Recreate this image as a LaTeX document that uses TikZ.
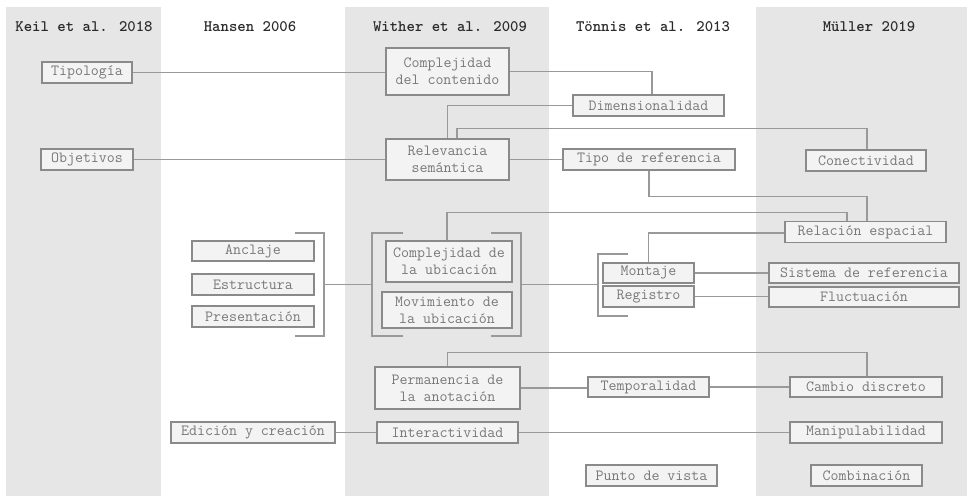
\documentclass[tikz,border=0pt]{standalone}
\usepackage{fontspec}
\definecolor{band}{HTML}{E6E6E6}
\definecolor{boxfill}{HTML}{F3F3F3}
\definecolor{boxline}{HTML}{8A8A8A}
\definecolor{boxtext}{HTML}{787878}
\definecolor{wire}{HTML}{999999}
\definecolor{headtext}{HTML}{2A2A2A}
\tikzset{
  cell/.style={draw=boxline, fill=boxfill, line width=1.3pt, text=boxtext,
    inner sep=0pt, align=center,
    font=\ttfamily\fontsize{15.5}{17}\selectfont},
  head/.style={text=headtext, font=\ttfamily\bfseries\fontsize{16}{17}\selectfont},
  wire/.style={draw=wire, line width=1.3pt},
  brace/.style={draw=wire, line width=1.3pt}
}
\begin{document}
\begin{tikzpicture}[x=1pt,y=-1pt]
\useasboundingbox (0,0) rectangle (975,496);
% column bands
\fill[band] (6,7) rectangle (161,496);
\fill[band] (345,7) rectangle (549,496);
\fill[band] (756,7) rectangle (967,496);
% column headers
\node[head] (hk) at (84,27) {Keil et al. 2018};
\node[head] (hh) at (250,27) {Hansen 2006};
\node[head] (hw) at (450,27) {Wither et al. 2009};
\node[head] (ht) at (653,27) {Tönnis et al. 2013};
\node[head] (hm) at (869,27) {Müller 2019};
% boxes
\node[cell, minimum width=90pt, minimum height=21pt] (tip) at (87,72.5) {Tipología};
\node[cell, minimum width=92pt, minimum height=21pt] (obj) at (87,159.5) {Objetivos};
\node[cell, minimum width=123pt, minimum height=47pt] (cc) at (447.5,71.5) {Complejidad\\del contenido};
\node[cell, minimum width=151pt, minimum height=21pt] (dim) at (648.5,105.5) {Dimensionalidad};
\node[cell, minimum width=123pt, minimum height=41pt] (rel) at (447.5,159.5) {Relevancia\\semántica};
\node[cell, minimum width=172pt, minimum height=21pt] (tipo) at (649,159.5) {Tipo de referencia};
\node[cell, minimum width=120pt, minimum height=21pt] (con) at (866,160.5) {Conectividad};
\node[cell, minimum width=161pt, minimum height=21pt] (resp) at (865.5,232) {Relación espacial};
\node[cell, minimum width=122pt, minimum height=20pt] (anc) at (253,251) {Anclaje};
\node[cell, minimum width=122pt, minimum height=21pt] (est) at (253,284.5) {Estructura};
\node[cell, minimum width=122pt, minimum height=21pt] (pre) at (253,316.5) {Presentación};
\node[cell, minimum width=126pt, minimum height=41pt] (cu) at (449,261.5) {Complejidad de\\la ubicación};
\node[cell, minimum width=130pt, minimum height=36pt] (mu) at (447,310) {Movimiento de\\la ubicación};
\node[cell, minimum width=91pt, minimum height=20pt] (mon) at (648.5,273) {Montaje};
\node[cell, minimum width=91pt, minimum height=21pt] (reg) at (648.5,296.5) {Registro};
\node[cell, minimum width=190pt, minimum height=20pt] (sis) at (864,273) {Sistema de referencia};
\node[cell, minimum width=190pt, minimum height=20pt] (flu) at (864,297) {Fluctuación};
\node[cell, minimum width=145pt, minimum height=42pt] (per) at (447.5,388) {Permanencia de\\la anotación};
\node[cell, minimum width=121pt, minimum height=20pt] (tem) at (648.5,387) {Temporalidad};
\node[cell, minimum width=152pt, minimum height=20pt] (cam) at (866,387) {Cambio discreto};
\node[cell, minimum width=164pt, minimum height=21pt] (edi) at (253,432.5) {Edición y creación};
\node[cell, minimum width=141pt, minimum height=21pt] (int) at (447.5,432.5) {Interactividad};
\node[cell, minimum width=152pt, minimum height=21pt] (man) at (866,432.5) {Manipulabilidad};
\node[cell, minimum width=131pt, minimum height=21pt] (pv) at (651.5,475.5) {Punto de vista};
\node[cell, minimum width=111pt, minimum height=21pt] (com) at (866.5,475.5) {Combinación};
% brackets grouping the location boxes
\draw[brace] (295,233) -- (324,233) -- (324,336) -- (295,336);
\draw[brace] (403,233) -- (372,233) -- (372,336) -- (403,336);
\draw[brace] (491,233) -- (521,233) -- (521,336) -- (491,336);
\draw[brace] (628,254) -- (598,254) -- (598,316) -- (628,316);
\coordinate (hb) at (324,284.5);
\coordinate (wl) at (372,284.5);
\coordinate (wr) at (521,284.5);
\coordinate (tl) at (598,284.5);
% connectors
\draw[wire] (tip.east) -- (tip.east -| cc.west);
\draw[wire] (cc.east) -| ([xshift=3.5pt]dim.north);
\draw[wire] (dim.west) -| (rel.north);
\draw[wire] ([xshift=9.5pt]rel.north) -- ++(0,-10) -| ([xshift=1pt]con.north);
\draw[wire] (obj.east) -- (obj.east -| rel.west);
\draw[wire] (rel.east) -- (rel.east -| tipo.west);
\draw[wire] (tipo.south) -- ++(0,26) -| ([xshift=1.5pt]resp.north);
\draw[wire] ([xshift=-2pt]cu.north) -- ++(0,-28) -| ([xshift=-18.5pt]resp.north);
\draw[wire] ([yshift=-1pt]resp.west) -| (mon.north);
\draw[wire] (hb) -- (wl);
\draw[wire] (wr) -- (tl);
\draw[wire] (mon.east) -- (mon.east -| sis.west);
\draw[wire] (reg.east) -- (reg.east -| flu.west);
\draw[wire] (per.north) -- ++(0,-14) -| ([xshift=1pt]cam.north);
\draw[wire] (per.east) -- (per.east -| tem.west);
\draw[wire] (tem.east) -- (cam.west);
\draw[wire] (edi.east) -- (int.west);
\draw[wire] (int.east) -- (man.west);
\end{tikzpicture}
\end{document}
